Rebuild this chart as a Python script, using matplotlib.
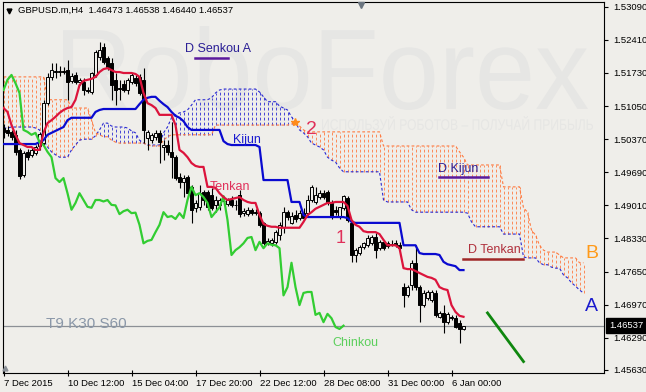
import numpy as np
import matplotlib
matplotlib.use('Agg')
import matplotlib.pyplot as plt
from matplotlib.textpath import TextPath
from matplotlib.patches import PathPatch
from matplotlib.font_manager import FontProperties
from matplotlib.transforms import Affine2D, blended_transform_factory

plt.rcParams['font.family'] = ['Liberation Sans', 'DejaVu Sans']

# GBPUSD.m H4 - velas visibles, de izquierda a derecha
opens = [
    1.5060, 1.5056, 1.5052, 1.5046, 1.5015, 1.4963, 1.5011, 1.5005, 1.5009, 1.5023,
    1.5029, 1.5111, 1.5165, 1.5177, 1.5175, 1.5177, 1.5179, 1.5156, 1.5169, 1.5155,
    1.5155, 1.5138, 1.5134, 1.5169, 1.5206, 1.5226, 1.5204, 1.5194, 1.5159, 1.5142,
    1.5150, 1.5138, 1.5155, 1.5163, 1.5165, 1.5159, 1.5040, 1.5035, 1.5042, 1.5050,
    1.5021, 1.5025, 1.5011, 1.5000, 1.4959, 1.4949, 1.4959, 1.4939, 1.4896, 1.4898,
    1.4928, 1.4928, 1.4922, 1.4902, 1.4902, 1.4910, 1.4904, 1.4912, 1.4902, 1.4922,
    1.4885, 1.4883, 1.4892, 1.4887, 1.4885, 1.4865, 1.4823, 1.4823, 1.4826, 1.4840,
    1.4857, 1.4887, 1.4865, 1.4881, 1.4875, 1.4885, 1.4885, 1.4912, 1.4908, 1.4918,
    1.4926, 1.4928, 1.4906, 1.4892, 1.4877, 1.4896, 1.4916, 1.4865, 1.4799, 1.4803,
    1.4815, 1.4819, 1.4823, 1.4836, 1.4813, 1.4826, 1.4817, 1.4821, 1.4823, 1.4819,
    1.4733, 1.4717, 1.4737, 1.4783, 1.4733, 1.4696, 1.4710, 1.4707, 1.4721, 1.4672,
    1.4680, 1.4661, 1.4672, 1.4669, 1.4659, 1.46473]
highs = [
    1.5068, 1.5064, 1.5056, 1.5056, 1.5019, 1.5013, 1.5017, 1.5019, 1.5025, 1.5052,
    1.5118, 1.5173, 1.5194, 1.5194, 1.5187, 1.5185, 1.5200, 1.5173, 1.5175, 1.5163,
    1.5163, 1.5144, 1.5175, 1.5220, 1.5237, 1.5235, 1.5208, 1.5204, 1.5173, 1.5159,
    1.5159, 1.5163, 1.5173, 1.5169, 1.5171, 1.5183, 1.5056, 1.5050, 1.5056, 1.5056,
    1.5035, 1.5035, 1.5072, 1.5005, 1.4968, 1.4963, 1.4963, 1.4943, 1.4912, 1.4943,
    1.4933, 1.4933, 1.4937, 1.4920, 1.4916, 1.4920, 1.4916, 1.4920, 1.4912, 1.4933,
    1.4896, 1.4898, 1.4896, 1.4894, 1.4889, 1.4867, 1.4834, 1.4834, 1.4850, 1.4867,
    1.4898, 1.4892, 1.4887, 1.4892, 1.4892, 1.4896, 1.4922, 1.4943, 1.4939, 1.4933,
    1.4933, 1.4933, 1.4912, 1.4900, 1.4898, 1.4922, 1.4920, 1.4867, 1.4813, 1.4819,
    1.4826, 1.4840, 1.4840, 1.4844, 1.4830, 1.4830, 1.4828, 1.4830, 1.4830, 1.4826,
    1.4741, 1.4737, 1.4789, 1.4819, 1.4737, 1.4727, 1.4727, 1.4727, 1.4727, 1.4684,
    1.4696, 1.4682, 1.4676, 1.4676, 1.4665, 1.46538]
lows = [
    1.5040, 1.5044, 1.5035, 1.5005, 1.4955, 1.4959, 1.4994, 1.5000, 1.5005, 1.5015,
    1.5025, 1.5107, 1.5159, 1.5163, 1.5167, 1.5171, 1.5118, 1.5152, 1.5150, 1.5148,
    1.5128, 1.5132, 1.5130, 1.5165, 1.5200, 1.5192, 1.5179, 1.5118, 1.5107, 1.5118,
    1.5134, 1.5130, 1.5150, 1.5146, 1.5128, 1.5029, 1.5015, 1.5029, 1.5035, 1.4988,
    1.4994, 1.5005, 1.4957, 1.4953, 1.4937, 1.4918, 1.4918, 1.4865, 1.4887, 1.4892,
    1.4902, 1.4892, 1.4892, 1.4887, 1.4892, 1.4902, 1.4900, 1.4898, 1.4892, 1.4877,
    1.4879, 1.4879, 1.4881, 1.4881, 1.4857, 1.4819, 1.4819, 1.4817, 1.4822, 1.4830,
    1.4844, 1.4871, 1.4863, 1.4867, 1.4871, 1.4871, 1.4881, 1.4908, 1.4904, 1.4914,
    1.4914, 1.4902, 1.4873, 1.4881, 1.4873, 1.4892, 1.4867, 1.4785, 1.4785, 1.4799,
    1.4811, 1.4815, 1.4819, 1.4793, 1.4809, 1.4809, 1.4813, 1.4817, 1.4815, 1.4809,
    1.4692, 1.4713, 1.4727, 1.4727, 1.4661, 1.4692, 1.4707, 1.4702, 1.4672, 1.4669,
    1.4639, 1.4657, 1.4665, 1.4649, 1.4618, 1.46440]
closes = [
    1.5052, 1.5050, 1.5042, 1.5011, 1.4961, 1.5009, 1.5000, 1.5015, 1.5021, 1.5048,
    1.5111, 1.5165, 1.5179, 1.5176, 1.5177, 1.5176, 1.5154, 1.5167, 1.5155, 1.5159,
    1.5138, 1.5137, 1.5173, 1.5216, 1.5220, 1.5196, 1.5186, 1.5148, 1.5138, 1.5141,
    1.5138, 1.5159, 1.5169, 1.5152, 1.5132, 1.5056, 1.5052, 1.5046, 1.5050, 1.5031,
    1.5025, 1.5011, 1.5000, 1.4957, 1.4949, 1.4957, 1.4926, 1.4892, 1.4906, 1.4926,
    1.4912, 1.4898, 1.4896, 1.4912, 1.4912, 1.4909, 1.4912, 1.4902, 1.4901, 1.4883,
    1.4889, 1.4892, 1.4885, 1.4886, 1.4861, 1.4823, 1.4828, 1.4830, 1.4846, 1.4861,
    1.4887, 1.4877, 1.4879, 1.4873, 1.4885, 1.4875, 1.4912, 1.4939, 1.4922, 1.4926,
    1.4918, 1.4906, 1.4877, 1.4887, 1.4897, 1.4920, 1.4871, 1.4799, 1.4809, 1.4815,
    1.4823, 1.4834, 1.4836, 1.4809, 1.4826, 1.4813, 1.4823, 1.4820, 1.4819, 1.4813,
    1.4716, 1.4733, 1.4783, 1.4733, 1.4696, 1.4721, 1.4723, 1.4723, 1.4676, 1.4680,
    1.4661, 1.4678, 1.4669, 1.4651, 1.4647, 1.46537]

# Ichimoku T9 K30 S60
tenkan = [
    1.5101, 1.5093, 1.5066, 1.5046, 1.5029, 1.5025, 1.5021, 1.5021, 1.5015, 1.5015,
    1.5050, 1.5070, 1.5076, 1.5083, 1.5091, 1.5097, 1.5101, 1.5103, 1.5118, 1.5148,
    1.5157, 1.5159, 1.5161, 1.5165, 1.5175, 1.5181, 1.5183, 1.5179, 1.5175, 1.5175,
    1.5173, 1.5173, 1.5173, 1.5171, 1.5165, 1.5132, 1.5111, 1.5107, 1.5101, 1.5087,
    1.5087, 1.5087, 1.5087, 1.5066, 1.5015, 1.5009, 1.5000, 1.4988, 1.4982, 1.4980,
    1.4980, 1.4939, 1.4939, 1.4937, 1.4926, 1.4918, 1.4912, 1.4914, 1.4916, 1.4918,
    1.4912, 1.4908, 1.4906, 1.4906, 1.4881, 1.4863, 1.4859, 1.4857, 1.4857, 1.4855,
    1.4855, 1.4855, 1.4855, 1.4855, 1.4855, 1.4867, 1.4881, 1.4887, 1.4894, 1.4898,
    1.4902, 1.4906, 1.4906, 1.4908, 1.4908, 1.4908, 1.4900, 1.4871, 1.4861, 1.4857,
    1.4848, 1.4846, 1.4846, 1.4846, 1.4842, 1.4830, 1.4819, 1.4819, 1.4819, 1.4813,
    1.4772, 1.4770, 1.4770, 1.4766, 1.4762, 1.4758, 1.4754, 1.4752, 1.4748, 1.4733,
    1.4729, 1.4727, 1.4696, 1.4682, 1.4674, 1.4672]
kijun = [
    1.5027, 1.5027, 1.5027, 1.5027, 1.5027, 1.5027, 1.5027, 1.5027, 1.5027, 1.5031,
    1.5035, 1.5046, 1.5050, 1.5054, 1.5058, 1.5062, 1.5076, 1.5081, 1.5081, 1.5081,
    1.5081, 1.5081, 1.5081, 1.5093, 1.5097, 1.5099, 1.5099, 1.5099, 1.5099, 1.5099,
    1.5099, 1.5099, 1.5099, 1.5099, 1.5109, 1.5118, 1.5122, 1.5124, 1.5124, 1.5116,
    1.5109, 1.5103, 1.5093, 1.5085, 1.5081, 1.5074, 1.5062, 1.5056, 1.5056, 1.5056,
    1.5056, 1.5056, 1.5056, 1.5056, 1.5056, 1.5033, 1.5027, 1.5025, 1.5025, 1.5025,
    1.5025, 1.5025, 1.5025, 1.5025, 1.5021, 1.4953, 1.4953, 1.4953, 1.4953, 1.4953,
    1.4953, 1.4953, 1.4908, 1.4908, 1.4908, 1.4881, 1.4877, 1.4877, 1.4877, 1.4877,
    1.4877, 1.4877, 1.4877, 1.4877, 1.4877, 1.4877, 1.4875, 1.4867, 1.4865, 1.4865,
    1.4865, 1.4865, 1.4865, 1.4865, 1.4865, 1.4865, 1.4865, 1.4865, 1.4865, 1.4865,
    1.4819, 1.4819, 1.4819, 1.4819, 1.4803, 1.4801, 1.4801, 1.4801, 1.4801, 1.4799,
    1.4785, 1.4780, 1.4778, 1.4776, 1.4768, 1.4768]
# nube desplazada 30 velas hacia adelante
senkou_a = [
    1.5060, 1.5060, 1.5062, 1.5062, 1.5062, 1.5062, 1.5062, 1.5062, 1.5060, 1.5056,
    1.5035, 1.5021, 1.5011, 1.5005, 1.5000, 1.5000, 1.5000, 1.5015, 1.5025, 1.5035,
    1.5037, 1.5037, 1.5037, 1.5044, 1.5056, 1.5070, 1.5070, 1.5064, 1.5062, 1.5062,
    1.5062, 1.5060, 1.5054, 1.5050, 1.5035, 1.5029, 1.5025, 1.5025, 1.5025, 1.5025,
    1.5050, 1.5062, 1.5081, 1.5087, 1.5091, 1.5093, 1.5097, 1.5107, 1.5118, 1.5118,
    1.5118, 1.5118, 1.5122, 1.5132, 1.5138, 1.5140, 1.5140, 1.5140, 1.5140, 1.5140,
    1.5140, 1.5140, 1.5140, 1.5140, 1.5134, 1.5124, 1.5114, 1.5114, 1.5114, 1.5105,
    1.5101, 1.5097, 1.5083, 1.5072, 1.5056, 1.5050, 1.5042, 1.5029, 1.5025, 1.5021,
    1.5015, 1.5000, 1.4994, 1.4990, 1.4978, 1.4970, 1.4970, 1.4970, 1.4970, 1.4970,
    1.4970, 1.4970, 1.4970, 1.4970, 1.4970, 1.4912, 1.4908, 1.4908, 1.4908, 1.4908,
    1.4908, 1.4908, 1.4892, 1.4887, 1.4887, 1.4887, 1.4887, 1.4887, 1.4887, 1.4887,
    1.4887, 1.4887, 1.4887, 1.4887, 1.4887, 1.4887, 1.4885, 1.4867, 1.4857, 1.4857,
    1.4857, 1.4857, 1.4857, 1.4857, 1.4857, 1.4842, 1.4842, 1.4842, 1.4842, 1.4842,
    1.4795, 1.4793, 1.4793, 1.4793, 1.4783, 1.4779, 1.4779, 1.4774, 1.4772, 1.4772,
    1.4758, 1.4752, 1.4742, 1.4735, 1.4727, 1.4721]
senkou_b = [
    1.5165, 1.5165, 1.5165, 1.5165, 1.5165, 1.5165, 1.5165, 1.5165, 1.5165, 1.5165,
    1.5165, 1.5118, 1.5118, 1.5118, 1.5118, 1.5118, 1.5118, 1.5101, 1.5101, 1.5101,
    1.5101, 1.5101, 1.5076, 1.5050, 1.5046, 1.5042, 1.5042, 1.5035, 1.5031, 1.5029,
    1.5029, 1.5029, 1.5029, 1.5029, 1.5029, 1.5029, 1.5025, 1.5023, 1.5023, 1.5023,
    1.5035, 1.5042, 1.5046, 1.5046, 1.5046, 1.5046, 1.5046, 1.5046, 1.5046, 1.5046,
    1.5046, 1.5046, 1.5046, 1.5066, 1.5066, 1.5066, 1.5066, 1.5066, 1.5066, 1.5066,
    1.5066, 1.5066, 1.5066, 1.5066, 1.5066, 1.5066, 1.5066, 1.5066, 1.5066, 1.5066,
    1.5066, 1.5066, 1.5068, 1.5072, 1.5064, 1.5056, 1.5052, 1.5052, 1.5052, 1.5052,
    1.5052, 1.5052, 1.5052, 1.5052, 1.5052, 1.5052, 1.5052, 1.5052, 1.5052, 1.5052,
    1.5052, 1.5052, 1.5052, 1.5052, 1.5052, 1.5023, 1.5023, 1.5023, 1.5023, 1.5023,
    1.5023, 1.5023, 1.5023, 1.5023, 1.5023, 1.5023, 1.5023, 1.5023, 1.5023, 1.5023,
    1.5023, 1.5023, 1.5023, 1.5023, 1.5011, 1.5000, 1.4984, 1.4984, 1.4984, 1.4984,
    1.4984, 1.4984, 1.4984, 1.4984, 1.4984, 1.4939, 1.4939, 1.4939, 1.4939, 1.4939,
    1.4896, 1.4887, 1.4850, 1.4840, 1.4819, 1.4809, 1.4805, 1.4805, 1.4805, 1.4799,
    1.4793, 1.4793, 1.4793, 1.4793, 1.4783, 1.4783]
chinkou_shift = 30
last_price = 1.46537

price_ticks = [1.53090, 1.52410, 1.51730, 1.51050, 1.50370, 1.49690,
               1.49010, 1.48330, 1.47650, 1.46970, 1.46290, 1.45630]
date_ticks = [0, 16, 32, 48, 64, 80, 96, 112]
date_labels = ['7 Dec 2015', '10 Dec 12:00', '15 Dec 04:00', '17 Dec 20:00',
               '22 Dec 12:00', '28 Dec 08:00', '31 Dec 00:00', '6 Jan 00:00']

# línea de pronóstico dibujada a mano en el gráfico
forecast_idx = [121, 130]
forecast_price = [1.4680, 1.4580]

BG = '#efeeea'
BLUE = '#0a0ad0'
RED = '#dc143c'
GREEN = '#32cd32'
CLOUD_BLUE = '#2a2ad2'
CLOUD_ORANGE = '#ff7a40'
DASH = (0, (3.4, 2.6))

fig = plt.figure(figsize=(6.46, 3.92), dpi=100, facecolor=BG)
ax = fig.add_axes([3 / 646, 19 / 392, 601 / 646, 371 / 392])
ax.set_facecolor(BG)


def watermark(text, box, color):
    # texto de fondo escalado a una caja en fracción de figura
    tp = TextPath((0, 0), text, size=100, prop=FontProperties(family='Liberation Sans'))
    ext = tp.get_extents()
    sx = (box[2] - box[0]) / ext.width
    sy = (box[3] - box[1]) / ext.height
    tr = (Affine2D().translate(-ext.x0, -ext.y0).scale(sx, sy)
          .translate(box[0], box[1]) + fig.transFigure)
    ax.add_artist(PathPatch(tp, transform=tr, facecolor=color, edgecolor='none',
                            zorder=0.5, clip_on=False))


watermark('RoboForex', (63 / 646, 282 / 392, 588 / 646, 366 / 392), '#e6e6e4')
watermark('ИСПОЛЬЗУЙ РОБОТОВ – ПОЛУЧАЙ ПРИБЫЛЬ',
          (322 / 646, 262 / 392, 593 / 646, 276 / 392), '#e6e6e4')

# nube (histograma punteado entre Senkou A y B)
a = np.array(senkou_a)
b = np.array(senkou_b)
ci = np.arange(len(a))
up = a >= b
ax.vlines(ci[up], b[up], a[up], colors=CLOUD_BLUE, linestyles=DASH, lw=0.6, zorder=1.5)
ax.vlines(ci[~up], a[~up], b[~up], colors=CLOUD_ORANGE, linestyles=DASH, lw=0.6, zorder=1.5)
ax.plot(ci, a, color=CLOUD_BLUE, lw=0.8, ls=(0, (2.5, 2)), zorder=1.6)
ax.plot(ci, b, color=CLOUD_ORANGE, lw=0.8, ls=(0, (2.5, 2)), zorder=1.6)

# velas
o = np.array(opens)
h = np.array(highs)
l = np.array(lows)
c = np.array(closes)
idx = np.arange(len(o))
bull = c >= o
ax.vlines(idx, l, h, color='black', lw=0.8, zorder=3)
ax.bar(idx[bull], c[bull] - o[bull], bottom=o[bull], width=0.75,
       facecolor=BG, edgecolor='black', lw=0.7, zorder=4)
ax.bar(idx[~bull], o[~bull] - c[~bull], bottom=c[~bull], width=0.75,
       facecolor='black', edgecolor='black', lw=0.7, zorder=4)

# líneas Ichimoku
ax.plot(idx, kijun, color=BLUE, lw=1.6, zorder=5)
ax.plot(idx, tenkan, color=RED, lw=1.6, zorder=5.1)
ax.plot(idx[:-chinkou_shift], c[chinkou_shift:], color=GREEN, lw=1.6, zorder=5)

ax.axhline(last_price, color='#8c9096', lw=0.9, zorder=2)
ax.plot(forecast_idx, forecast_price, color='#0f870f', lw=2.0, zorder=5)

# textos del gráfico
ax.text(45.4, 1.5216, 'D Senkou A', color='#2b1f96', fontsize=9, zorder=6)
ax.plot([47.9, 56.1], [1.5204, 1.5204], color='#5a1a9c', lw=1.8, zorder=6)
ax.text(57.4, 1.5029, 'Kijun', color='#1a1ad0', fontsize=9, zorder=6)
ax.text(51.6, 1.4933, 'Tenkan', color='#e0305a', fontsize=9, zorder=6)
ax.text(82.1, 1.4612, 'Chinkou', color='#5ccf5c', fontsize=9, zorder=6)
ax.text(83.1, 1.4824, '1', color='#e0305a', fontsize=13, zorder=6)
ax.text(75.6, 1.5048, '2', color='#e0305a', fontsize=14, zorder=6)
ax.plot([72.9], [1.5073], marker='*', color='#ff8c1a', ms=6, zorder=6)
ax.text(108.6, 1.4970, 'D Kijun', color='#2b1f96', fontsize=9, zorder=6)
ax.plot([108.9, 121.1], [1.4959, 1.4959], color='#5a1a9c', lw=1.8, zorder=6)
ax.text(116.1, 1.4803, 'D Tenkan', color='#b0303c', fontsize=9, zorder=6)
ax.plot([114.9, 129.9], [1.4790, 1.4790], color='#a02828', lw=1.8, zorder=6)
ax.text(145.4, 1.4793, 'B', color='#ff9a1a', fontsize=14, zorder=6)
ax.text(145.4, 1.4684, 'A', color='#1a1acd', fontsize=14, zorder=6)
ax.text(10.6, 1.4649, 'T9 K30 S60', color='#8a97a8', fontsize=11, zorder=6)

# ejes
ax.set_xlim(-0.125, 150.125)
ax.set_ylim(1.45565, 1.53189)
for sp in ax.spines.values():
    sp.set_color('black')
    sp.set_linewidth(0.8)
ax.yaxis.tick_right()
ax.set_yticks(price_ticks)
ax.set_yticklabels([f'{t:.5f}' for t in price_ticks])
ax.set_xticks(date_ticks)
ax.set_xticklabels(date_labels, ha='left')
ax.tick_params(axis='y', direction='out', length=3, width=0.8, pad=3.5, labelsize=6.8)
ax.tick_params(axis='x', direction='inout', length=4, width=0.8, pad=2, labelsize=6.8)

tr = blended_transform_factory(ax.transAxes, ax.transData)
ax.text(1.0085, last_price, '1.46537', transform=tr, color='white', fontsize=6.8,
        va='center', ha='left', zorder=7, clip_on=False,
        bbox=dict(boxstyle='square,pad=0.3', fc='black', ec='black'))

fig.text(18 / 646, 382 / 392, 'GBPUSD.m,H4  1.46473 1.46538 1.46440 1.46537',
         fontsize=6.8, va='center', ha='left', color='black')
ax.plot([0.0108], [0.977], marker='v', color='black', ms=3.5,
        transform=ax.transAxes, clip_on=False, zorder=7)
ax.plot([0.596], [0.992], marker='v', color='#6b7580', ms=4.5,
        transform=ax.transAxes, clip_on=False, zorder=7)
ax.plot([0.004], [0.014], marker='^', color='#8a9098', ms=3.5,
        transform=ax.transAxes, clip_on=False, zorder=7)

fig.savefig('out.png', dpi=100, facecolor=BG)
